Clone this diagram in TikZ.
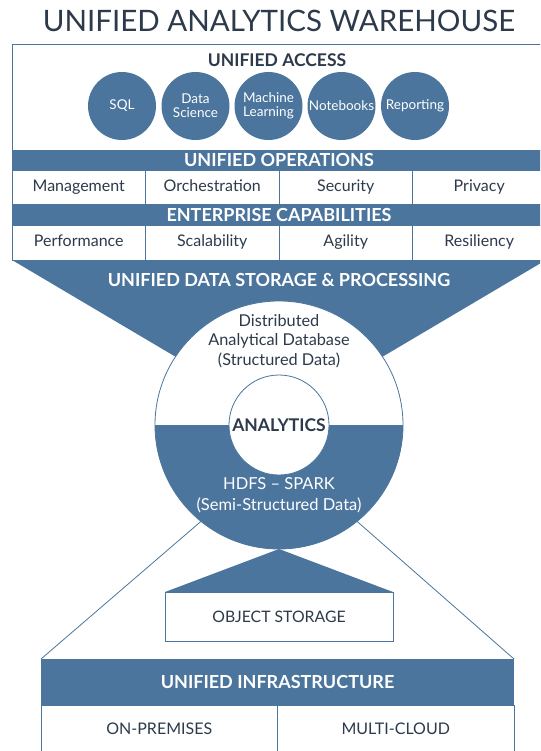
\documentclass[tikz,border=0pt]{standalone}
\usepackage{fontspec}
\setmainfont{Lato}
\usetikzlibrary{positioning}
\definecolor{Band}{HTML}{4B759D}
\definecolor{Ink}{HTML}{2D3A4B}

\begin{document}
\begin{tikzpicture}[x=1pt,y=1pt,
  panel/.style={draw=Band,line width=0.8pt,fill=white,inner sep=0pt,outer sep=0pt},
  band/.style={fill=Band,text=white,font=\fontsize{18}{20}\selectfont\bfseries,minimum width=534pt,inner sep=0pt,outer sep=0pt,text height=12.5pt,text depth=0pt},
  cell/.style={panel,minimum width=133.5pt,minimum height=34.5pt,text=Ink,font=\fontsize{16}{18}\selectfont,text height=11.5pt,text depth=3.5pt},
  tool/.style={circle,fill=Band,minimum size=68pt,inner sep=0pt,text=white,align=center,font=\fontsize{13.5}{14}\selectfont},
  head/.style={text=Ink,font=\fontsize{17.5}{19}\selectfont\bfseries},
  plain/.style={align=center,font=\fontsize{16.3}{19.5}\selectfont},
  link/.style={draw=Band,line width=0.8pt}
]
  \useasboundingbox (0,0) rectangle (540,-751);
  \clip (0,0) rectangle (540,-751);
  \node[text=Ink,font=\fontsize{29.5}{32}\selectfont] (title) at (279,-21) {UNIFIED ANALYTICS WAREHOUSE};
  % access layer
  \node[panel,minimum width=534pt,minimum height=106pt] (access) at (279,-97) {};
  \node[head] (accesshead) at (277,-60) {UNIFIED ACCESS};
  \node[tool] (sql) at (122,-106) {SQL};
  \node[tool] (ds) at (195.5,-106) {Data\\Science};
  \node[tool] (ml) at (268.5,-106) {Machine\\Learning};
  \node[tool] (nb) at (341.5,-106) {Notebooks};
  \node[tool] (rep) at (415,-106) {Reporting};
  % operations and capabilities
  \node[band,minimum height=20pt,anchor=north] (ops) at (access.south) {UNIFIED OPERATIONS};
  \node[cell,anchor=north west] (mgmt) at (ops.south west) {Management};
  \node[cell,right=0pt of mgmt] (orch) {Orchestration};
  \node[cell,right=0pt of orch] (sec) {Security};
  \node[cell,right=0pt of sec] (priv) {Privacy};
  \node[band,minimum height=21pt,anchor=north] (ent) at (ops.south |- mgmt.south) {ENTERPRISE CAPABILITIES};
  \node[cell,anchor=north west] (perf) at (ent.south west) {Performance};
  \node[cell,right=0pt of perf] (scal) {Scalability};
  \node[cell,right=0pt of scal] (agil) {Agility};
  \node[cell,right=0pt of agil] (resil) {Resiliency};
  % funnel into storage
  \fill[Band] (perf.south west) -- (resil.south east) -- (279,-418) -- cycle;
  \node[band,fill=none] (storage) at (279,-280) {UNIFIED DATA STORAGE \& PROCESSING};
  % analytics core
  \node[circle,panel,minimum size=248pt] (core) at (279,-425) {};
  \fill[Band] (core.west) arc[start angle=180,end angle=360,radius=124pt];
  \node[circle,panel,minimum size=100pt,head] (analytics) at (core.center) {ANALYTICS};
  \node[plain,text=Ink] (struct) at (279,-341) {Distributed\\Analytical Database\\(Structured Data)};
  \node[plain,text=white,font=\fontsize{16.5}{21}\selectfont] (semi) at (279,-495) {HDFS – SPARK\\(Semi-Structured Data)};
  % infrastructure
  \node[band,minimum width=473pt,minimum height=46pt,font=\fontsize{18}{20}\selectfont\bfseries] (infra) at (277.5,-682) {UNIFIED INFRASTRUCTURE};
  \node[cell,minimum width=236.5pt,minimum height=50pt,anchor=north west] (onprem) at (infra.south west) {ON-PREMISES};
  \node[cell,minimum width=236.5pt,minimum height=50pt,right=0pt of onprem] (cloud) {MULTI-CLOUD};
  \draw[link] (core.231) -- (infra.north west);
  \draw[link] (core.309) -- (infra.north east);
  % object storage
  \node[panel,minimum width=228pt,minimum height=49pt,text=Ink,font=\fontsize{15.8}{18}\selectfont] (objstore) at (279,-616.5) {OBJECT STORAGE};
  \fill[Band] (core.south) -- (objstore.north east) -- (objstore.north west) -- cycle;
\end{tikzpicture}
\end{document}
